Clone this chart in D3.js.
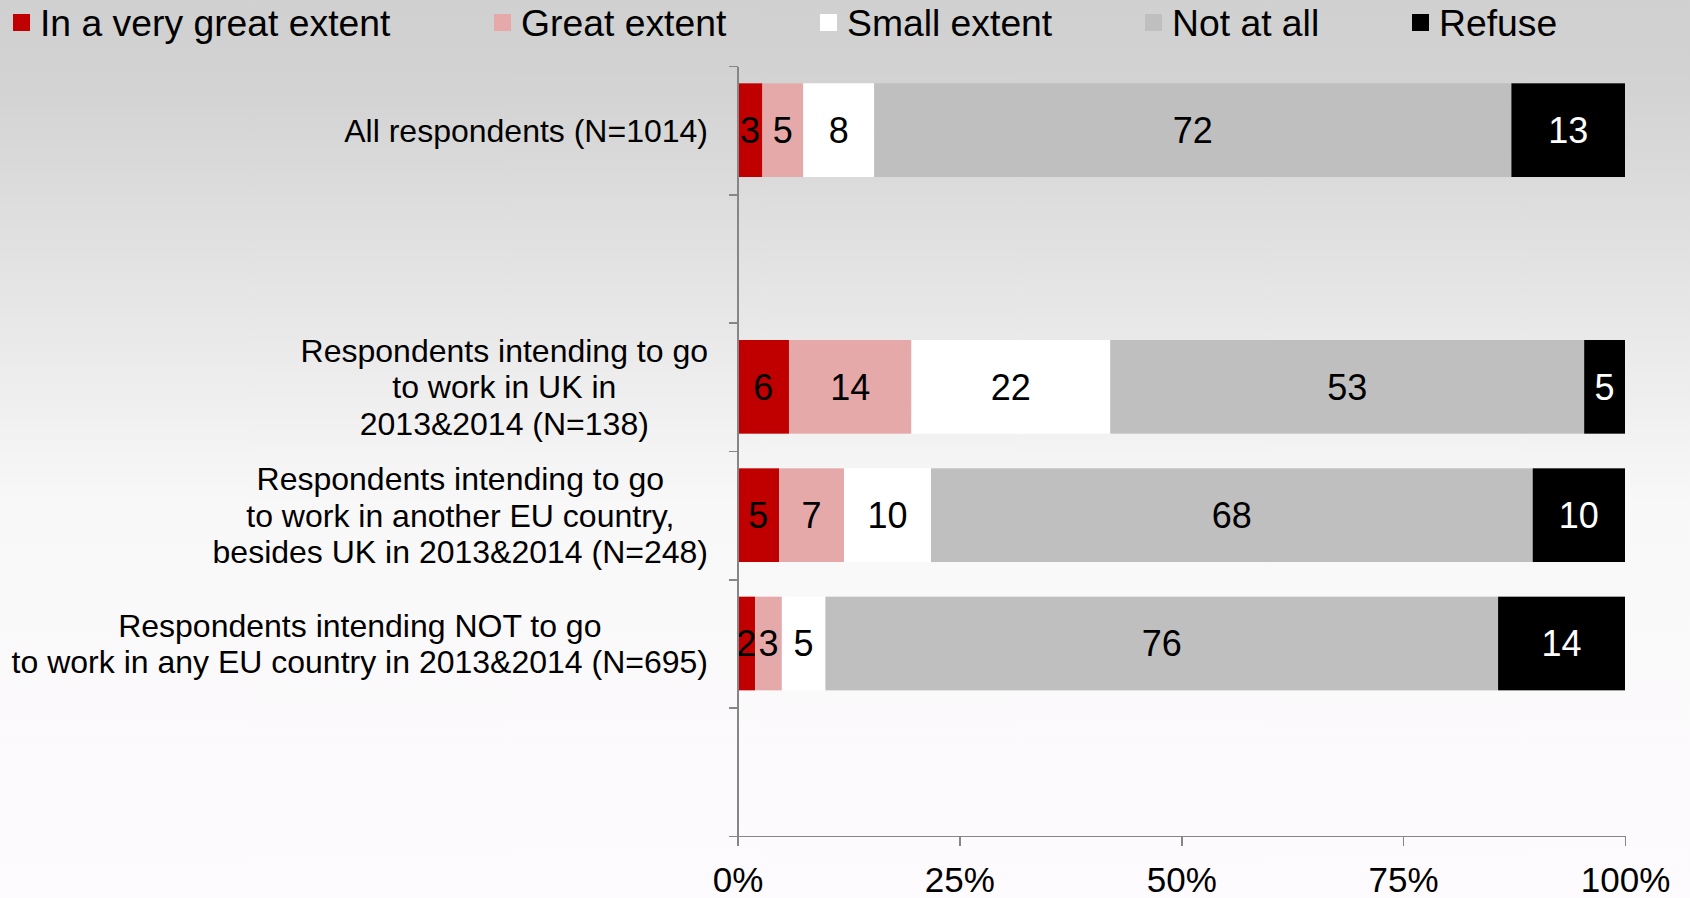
<!DOCTYPE html>
<meta charset="utf-8">
<style>
  body { margin: 0; }
  svg { display: block; font-family: 'Liberation Sans', Arial, sans-serif; }
  .axis path, .axis line { fill: none; stroke: #868686; stroke-width: 1.5px; shape-rendering: crispEdges; }
  .axis text { font-size: 35px; fill: #000; font-family: 'Liberation Sans', Arial, sans-serif; }
</style>
<script src="https://d3js.org/d3.v7.min.js"></script>
<div id="chart"></div>
<script>
// series, colours and rows
var series = ["In a very great extent", "Great extent", "Small extent", "Not at all", "Refuse"];
var colors = ["#c00000", "#e6a9a9", "#ffffff", "#bfbfbf", "#000000"];
var rowKeys = ["all", "gap1", "uk", "eu", "not", "gap2"];
var rowLabels = [
  ["All respondents (N=1014)"],
  [],
  ["Respondents intending to go", "to work in UK in", "2013&2014 (N=138)"],
  ["Respondents intending to go", "to work in another EU country,", "besides UK in 2013&2014 (N=248)"],
  ["Respondents intending NOT to go", "to work in any EU country in 2013&2014 (N=695)"],
  []
];
// percentages per series (null = empty row)
var veryGreat = [2.8, null, 5.8, 4.7, 2.0, null];
var great     = [4.6, null, 13.8, 7.3, 3.0, null];
var small     = [8.0, null, 22.4, 9.8, 4.9, null];
var notAtAll  = [71.8, null, 53.4, 67.8, 75.8, null];
var refuse    = [12.8, null, 4.6, 10.4, 14.3, null];
var xTicks = [0, 25, 50, 75, 100];
var legendX = [13, 494, 820, 1145, 1412];

var W = 1690, H = 898;
var svg = d3.select("#chart").append("svg").attr("width", W).attr("height", H);

// background gradient
var grad = svg.append("defs").append("linearGradient")
  .attr("id", "bg").attr("x1", 0).attr("y1", 0).attr("x2", 0).attr("y2", 1);
grad.append("stop").attr("offset", "0%").attr("stop-color", "#d0d0d0");
grad.append("stop").attr("offset", "10%").attr("stop-color", "#d3d3d3");
grad.append("stop").attr("offset", "56%").attr("stop-color", "#f9f8f9");
grad.append("stop").attr("offset", "100%").attr("stop-color", "#fdfbfd");
svg.append("rect").attr("width", W).attr("height", H).attr("fill", "url(#bg)");

var x = d3.scaleLinear().domain([0, 100]).range([737.5, 1625]);
var y = d3.scaleBand().domain(rowKeys).range([66, 836]).paddingInner(0.27).paddingOuter(0.135);
var yEdge = d3.scaleLinear().domain([0, rowKeys.length]).range([66, 836]);

// build table for the stack
var cols = [veryGreat, great, small, notAtAll, refuse];
var table = rowKeys.map(function(k, i) {
  var r = { key: k };
  series.forEach(function(s, j) { r[s] = cols[j][i]; });
  return r;
}).filter(function(r) { return r[series[0]] != null; });

var stacked = d3.stack().keys(series)(table);

var layers = svg.selectAll(".layer")
  .data(stacked).enter().append("g")
  .attr("class", "layer")
  .attr("fill", function(d, i) { return colors[i]; });

layers.selectAll("rect")
  .data(function(d) { return d; })
  .enter().append("rect")
  .attr("x", function(d) { return x(d[0]); })
  .attr("y", function(d) { return y(d.data.key); })
  .attr("width", function(d) { return x(d[1]) - x(d[0]); })
  .attr("height", y.bandwidth());

layers.selectAll("text")
  .data(function(d, i) { return d.map(function(p) { p.si = i; return p; }); })
  .enter().append("text")
  .attr("x", function(d) { return (x(d[0]) + x(d[1])) / 2; })
  .attr("y", function(d) { return y(d.data.key) + y.bandwidth() / 2; })
  .attr("dy", "0.36em")
  .attr("text-anchor", "middle")
  .style("font-size", "36px")
  .attr("fill", function(d) { return d.si === 4 ? "#fff" : "#000"; })
  .text(function(d) { return d3.format(".0f")(d[1] - d[0]); });

// axes
svg.append("g")
  .attr("class", "axis")
  .attr("transform", "translate(" + x(0) + ",0)")
  .call(d3.axisLeft(yEdge).ticks(rowKeys.length).tickSize(9).tickSizeOuter(0).tickFormat(""));

svg.append("g")
  .attr("class", "axis")
  .attr("transform", "translate(0," + yEdge(rowKeys.length) + ")")
  .call(d3.axisBottom(x).tickValues(xTicks).tickSize(10).tickSizeOuter(0).tickPadding(21)
    .tickFormat(function(d) { return d + "%"; }));

// category labels: lines centred, block right-aligned
var labelRight = 708, lineH = 36.6;
rowKeys.forEach(function(k, i) {
  var lines = rowLabels[i];
  if (!lines.length) return;
  var cy = y(k) + y.bandwidth() / 2;
  var g = svg.append("g");
  var t = g.selectAll("text").data(lines).enter().append("text")
    .attr("y", function(d, j) { return cy + (j - (lines.length - 1) / 2) * lineH; })
    .attr("dy", "0.36em")
    .attr("text-anchor", "middle")
    .style("font-size", "32px")
    .attr("fill", "#000")
    .text(function(d) { return d; });
  var maxW = d3.max(t.nodes(), function(n) { return n.getComputedTextLength(); });
  t.attr("x", labelRight - maxW / 2);
});

// legend
var leg = svg.selectAll(".leg").data(series).enter().append("g")
  .attr("class", "leg")
  .attr("transform", function(d, i) { return "translate(" + legendX[i] + ",0)"; });
leg.append("rect").attr("x", 0).attr("y", 14).attr("width", 17).attr("height", 17)
  .attr("fill", function(d, i) { return colors[i]; });
leg.append("text").attr("x", 27).attr("y", 36)
  .style("font-size", "37.3px").attr("fill", "#000")
  .text(function(d) { return d; });
</script>
